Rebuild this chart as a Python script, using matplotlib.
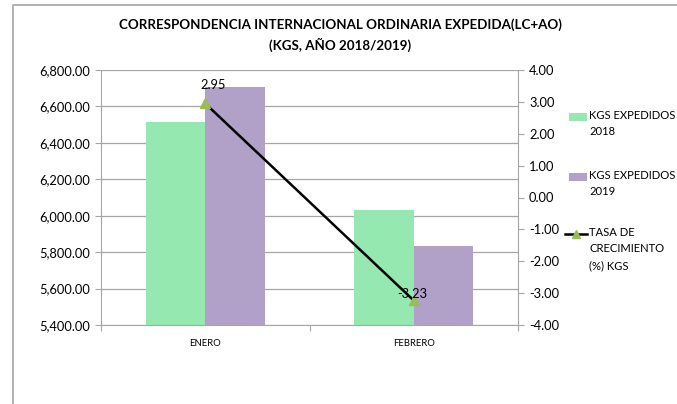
import matplotlib
matplotlib.use("Agg")
import matplotlib.pyplot as plt
import numpy as np
from matplotlib.patches import Rectangle
from matplotlib.lines import Line2D

categories = ["ENERO", "FEBRERO"]
kgs_2018 = [6512, 6030]
kgs_2019 = [6704, 5835]
tasa = [2.95, -3.23]
left_ticks = [5400, 5600, 5800, 6000, 6200, 6400, 6600, 6800]
right_ticks = [-4, -3, -2, -1, 0, 1, 2, 3, 4]

title = "CORRESPONDENCIA INTERNACIONAL ORDINARIA EXPEDIDA(LC+AO)\n(KGS, AÑO 2018/2019)"
labels = ["KGS EXPEDIDOS\n2018", "KGS EXPEDIDOS\n2019", "TASA DE\nCRECIMIENTO\n(%) KGS"]

plt.rcParams['font.family'] = ['Lato', 'DejaVu Sans']

W, H = 677, 404
fig = plt.figure(figsize=(W/100, H/100), dpi=100)
fig.patch.set_facecolor("white")

def fx(px):
    return px / W

def fy(py):
    return 1 - py / H

# outer chart border
fig.add_artist(Rectangle((fx(13), -0.05), 1.2, fy(5) + 0.05, transform=fig.transFigure,
                         fill=False, edgecolor="#A6A6A6", linewidth=1.2))

ax = fig.add_axes([fx(101), fy(325), (518-101)/W, (325-70)/H])
x = np.arange(len(categories))
w = 0.286
c18 = "#95E8B0"
c19 = "#B1A0C7"
ax.bar(x - w/2, kgs_2018, width=w, color=c18, zorder=2)
ax.bar(x + w/2, kgs_2019, width=w, color=c19, zorder=2)
ax.set_ylim(5400, 6800)
ax.set_xlim(-0.5, 1.5)
ax.set_yticks(left_ticks)
ax.set_yticklabels([f"{v:,.2f}" for v in left_ticks], fontsize=9.3)
ax.set_xticks([-0.5, 0.5, 1.5])
ax.set_xticklabels([])
ax.set_xticks(x, minor=True)
ax.set_xticklabels(categories, minor=True, fontsize=6.8)
ax.tick_params(axis="x", which="minor", length=0, pad=10)
ax.tick_params(axis="x", which="major", length=4, color="#A6A6A6")
ax.tick_params(axis="y", length=4, color="#A6A6A6", pad=4)
ax.grid(axis="y", color="#A6A6A6", linewidth=0.9, zorder=0)
ax.set_axisbelow(True)
for s in ["top", "right"]:
    ax.spines[s].set_visible(False)
for s in ["left", "bottom"]:
    ax.spines[s].set_color("#A6A6A6")

ax2 = ax.twinx()
ax2.set_ylim(-4, 4)
ax2.set_yticks(right_ticks)
ax2.set_yticklabels([f"{v:.2f}" for v in right_ticks], fontsize=9.3)
ax2.tick_params(axis="y", length=4, color="#A6A6A6", pad=4)
for s in ["top", "left", "bottom"]:
    ax2.spines[s].set_visible(False)
ax2.spines["right"].set_color("#A6A6A6")
ax2.plot(x, tasa, color="black", linewidth=1.8, marker="^", markersize=7,
         markerfacecolor="#9BBB59", markeredgecolor="#9BBB59", zorder=2)
ax2.annotate(f"{tasa[0]:.2f}", (x[0], tasa[0]), xytext=(6, 13), textcoords="offset points",
             ha="center", va="center", fontsize=9.3, zorder=6)
ax2.annotate(f"{tasa[1]:.2f}", (x[1], tasa[1]), xytext=(-1, 5), textcoords="offset points",
             ha="center", va="center", fontsize=9.3, zorder=6)

fig.text(fx(340), fy(35), title, ha="center", va="center", fontsize=9.6,
         fontweight="bold", linespacing=1.55)

# legend (drawn in figure coordinates)
fig.add_artist(Rectangle((fx(569), fy(121)), 18/W, 8/H, transform=fig.transFigure,
                         facecolor=c18, edgecolor="none"))
fig.add_artist(Rectangle((fx(569), fy(181)), 18/W, 8/H, transform=fig.transFigure,
                         facecolor=c19, edgecolor="none"))
fig.add_artist(Line2D([fx(565), fx(587)], [fy(234), fy(234)], transform=fig.transFigure,
                      color="black", linewidth=1.8))
fig.add_artist(Line2D([fx(576)], [fy(234)], transform=fig.transFigure, marker="^",
                      markersize=6, markerfacecolor="#9BBB59", markeredgecolor="#9BBB59",
                      linestyle="none"))
for lab, yc in zip(labels, [117, 177, 234]):
    fig.text(fx(589), fy(yc - 7), lab, ha="left", va="top", fontsize=8.1,
             linespacing=1.6)

fig.savefig("out.png", dpi=100)
